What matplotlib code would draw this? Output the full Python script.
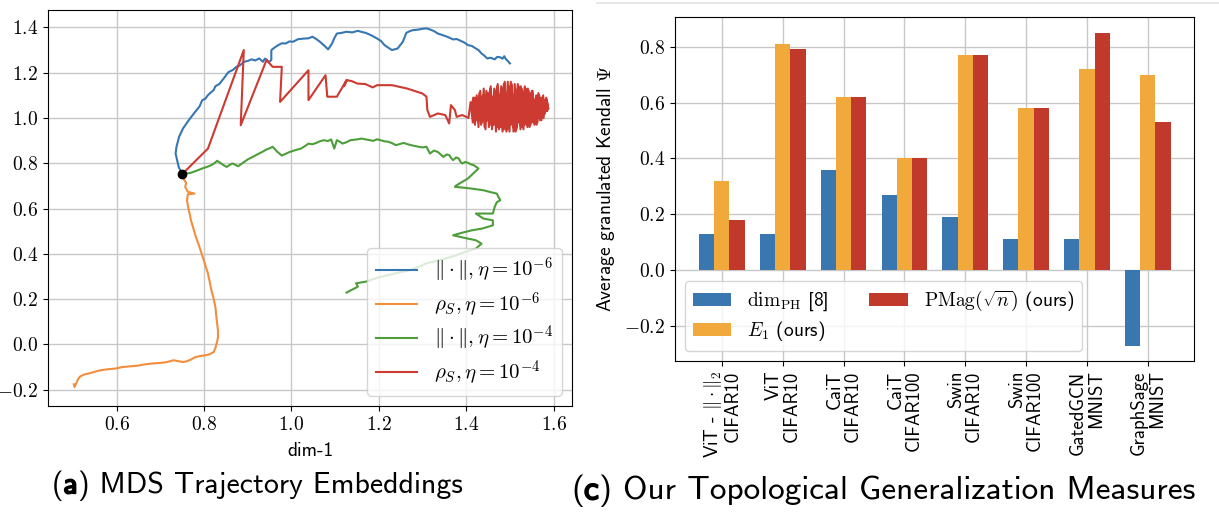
import matplotlib
matplotlib.use("Agg")
import matplotlib.pyplot as plt
import matplotlib.patheffects as pe
from matplotlib.lines import Line2D
from matplotlib.ticker import FuncFormatter, MultipleLocator
from matplotlib.offsetbox import TextArea, HPacker, AnchoredOffsetbox
import numpy as np

plt.rcParams['mathtext.fontset'] = 'cm'
plt.rcParams['font.family'] = ['cmss10', 'DejaVu Sans']
plt.rcParams['axes.unicode_minus'] = False

# ---- panel (a): MDS trajectory embeddings ----
start_pt = (0.75, 0.752)

blue_x = [0.750, 0.742, 0.735, 0.737, 0.743, 0.752, 0.765, 0.774, 0.783, 0.790, 0.796, 0.803,
          0.809, 0.815, 0.822, 0.826, 0.830, 0.835, 0.839, 0.844, 0.848, 0.853, 0.857, 0.866,
          0.874, 0.882, 0.891, 0.900, 0.909, 0.917, 0.926, 0.931, 0.935, 0.939, 0.943, 0.948,
          0.954, 0.954, 0.962, 0.970, 0.978, 0.987, 0.995, 1.004, 1.015, 1.030, 1.039, 1.048,
          1.056, 1.065, 1.075, 1.084, 1.093, 1.098, 1.104, 1.115, 1.126, 1.139, 1.152, 1.161,
          1.170, 1.183, 1.196, 1.205, 1.213, 1.222, 1.230, 1.243, 1.255, 1.263, 1.270, 1.278,
          1.289, 1.300, 1.309, 1.317, 1.326, 1.335, 1.343, 1.352, 1.360, 1.370, 1.378, 1.387,
          1.395, 1.404, 1.413, 1.422, 1.428, 1.435, 1.441, 1.448, 1.456, 1.465, 1.471, 1.478,
          1.483, 1.487, 1.490, 1.493, 1.500]
blue_y = [0.752, 0.784, 0.843, 0.873, 0.917, 0.954, 0.990, 1.013, 1.035, 1.052, 1.079, 1.085,
          1.101, 1.112, 1.123, 1.140, 1.145, 1.150, 1.160, 1.172, 1.182, 1.196, 1.204, 1.212,
          1.226, 1.232, 1.248, 1.252, 1.259, 1.254, 1.263, 1.255, 1.248, 1.262, 1.259, 1.246,
          1.256, 1.300, 1.312, 1.322, 1.330, 1.329, 1.338, 1.337, 1.348, 1.351, 1.352, 1.359,
          1.350, 1.337, 1.320, 1.303, 1.329, 1.352, 1.373, 1.376, 1.381, 1.378, 1.385, 1.380,
          1.376, 1.365, 1.351, 1.340, 1.322, 1.310, 1.300, 1.307, 1.337, 1.376, 1.383, 1.388,
          1.390, 1.394, 1.396, 1.391, 1.384, 1.373, 1.368, 1.362, 1.356, 1.347, 1.349, 1.341,
          1.334, 1.322, 1.318, 1.307, 1.300, 1.285, 1.276, 1.263, 1.266, 1.259, 1.270, 1.268,
          1.262, 1.273, 1.262, 1.256, 1.241]

orange_x = [0.750, 0.753, 0.759, 0.757, 0.763, 0.778, 0.763, 0.761, 0.763, 0.765, 0.768, 0.770,
            0.774, 0.778, 0.782, 0.787, 0.792, 0.797, 0.803, 0.809, 0.813, 0.817, 0.822, 0.826,
            0.828, 0.830, 0.832, 0.832, 0.830, 0.826, 0.822, 0.813, 0.804, 0.795, 0.787, 0.778,
            0.770, 0.761, 0.752, 0.741, 0.730, 0.715, 0.700, 0.683, 0.665, 0.648, 0.630, 0.613,
            0.596, 0.578, 0.561, 0.548, 0.535, 0.526, 0.517, 0.512, 0.509, 0.506, 0.504, 0.502]
orange_y = [0.752, 0.733, 0.713, 0.695, 0.674, 0.666, 0.663, 0.637, 0.615, 0.593, 0.570, 0.548,
            0.523, 0.497, 0.471, 0.445, 0.416, 0.386, 0.350, 0.313, 0.276, 0.239, 0.202, 0.165,
            0.128, 0.092, 0.060, 0.033, 0.012, -0.016, -0.034, -0.043, -0.048, -0.050, -0.053,
            -0.058, -0.067, -0.074, -0.078, -0.074, -0.070, -0.078, -0.082, -0.084, -0.088,
            -0.094, -0.097, -0.100, -0.107, -0.110, -0.115, -0.122, -0.129, -0.133, -0.141,
            -0.152, -0.166, -0.178, -0.188, -0.176]

green_x = [0.750, 0.770, 0.784, 0.796, 0.808, 0.817, 0.825, 0.830, 0.839, 0.846, 0.852, 0.858,
           0.865, 0.872, 0.878, 0.889, 0.900, 0.913, 0.926, 0.935, 0.943, 0.950, 0.957, 0.967,
           0.978, 0.987, 0.996, 1.009, 1.022, 1.031, 1.039, 1.048, 1.057, 1.065, 1.074, 1.083,
           1.091, 1.098, 1.104, 1.110, 1.117, 1.126, 1.135, 1.148, 1.161, 1.174, 1.187, 1.196,
           1.204, 1.213, 1.222, 1.231, 1.239, 1.248, 1.257, 1.266, 1.274, 1.283, 1.291, 1.300,
           1.309, 1.317, 1.326, 1.335, 1.342, 1.348, 1.355, 1.361, 1.366, 1.370, 1.377, 1.383,
           1.387, 1.391, 1.398, 1.404, 1.411, 1.417, 1.422, 1.428, 1.404, 1.378, 1.374, 1.395,
           1.413, 1.428, 1.439, 1.455, 1.470, 1.474, 1.478, 1.470, 1.465, 1.463, 1.461, 1.440,
           1.422, 1.439, 1.461, 1.461, 1.437, 1.413, 1.390, 1.370, 1.395, 1.422, 1.435, 1.422,
           1.396, 1.378, 1.350, 1.330, 1.309, 1.290, 1.274, 1.256, 1.239, 1.222, 1.204, 1.187,
           1.170, 1.148, 1.152, 1.126]
green_y = [0.752, 0.758, 0.768, 0.777, 0.785, 0.792, 0.802, 0.811, 0.799, 0.790, 0.784, 0.792,
           0.799, 0.793, 0.787, 0.802, 0.817, 0.830, 0.843, 0.852, 0.861, 0.866, 0.873, 0.852,
           0.834, 0.842, 0.850, 0.858, 0.865, 0.876, 0.887, 0.884, 0.890, 0.897, 0.902, 0.898,
           0.905, 0.865, 0.902, 0.896, 0.887, 0.893, 0.902, 0.905, 0.909, 0.904, 0.899, 0.906,
           0.902, 0.897, 0.895, 0.888, 0.880, 0.885, 0.890, 0.884, 0.880, 0.876, 0.873, 0.870,
           0.873, 0.843, 0.856, 0.850, 0.838, 0.828, 0.839, 0.836, 0.822, 0.814, 0.826, 0.821,
           0.806, 0.799, 0.806, 0.802, 0.795, 0.792, 0.785, 0.777, 0.733, 0.703, 0.696, 0.692,
           0.688, 0.684, 0.681, 0.673, 0.666, 0.650, 0.637, 0.628, 0.607, 0.592, 0.578, 0.578,
           0.578, 0.556, 0.548, 0.526, 0.512, 0.504, 0.493, 0.482, 0.471, 0.460, 0.445, 0.423,
           0.408, 0.394, 0.378, 0.368, 0.358, 0.342, 0.329, 0.322, 0.314, 0.306, 0.299, 0.288,
           0.277, 0.270, 0.255, 0.229]

red_x = [0.750, 0.809, 0.891, 0.884, 0.943, 0.957, 0.978, 0.974, 1.039, 1.039, 1.078, 1.082,
         1.104, 1.122, 1.126, 1.120, 1.127, 1.138, 1.151, 1.169, 1.186, 1.196, 1.230, 1.265,
         1.300, 1.309, 1.311, 1.317, 1.335, 1.352, 1.361, 1.365, 1.374, 1.378, 1.391, 1.400,
         1.405, 1.410, 1.415, 1.420, 1.425, 1.430, 1.434, 1.438, 1.442, 1.446, 1.450, 1.455,
         1.459, 1.463, 1.467, 1.471, 1.475, 1.479, 1.483, 1.487, 1.491, 1.495, 1.499, 1.503,
         1.507, 1.511, 1.515, 1.519, 1.523, 1.527, 1.531, 1.535, 1.539, 1.543, 1.547, 1.551,
         1.555, 1.559, 1.563, 1.567, 1.571, 1.575, 1.579, 1.583, 1.587,
         1.585, 1.581, 1.577, 1.573, 1.569, 1.565, 1.561, 1.557, 1.553, 1.549, 1.545, 1.541,
         1.537, 1.533, 1.529, 1.525, 1.521, 1.517, 1.513, 1.509, 1.505, 1.501, 1.497, 1.493,
         1.489, 1.485, 1.481, 1.477, 1.473, 1.469, 1.465, 1.461, 1.457, 1.453, 1.449, 1.445,
         1.441, 1.437, 1.433, 1.429, 1.425,
         1.412, 1.416, 1.420, 1.424, 1.428, 1.432, 1.436, 1.440, 1.444, 1.448, 1.452, 1.456,
         1.460, 1.464, 1.468, 1.472, 1.476, 1.480, 1.484, 1.488, 1.492, 1.496, 1.500, 1.504,
         1.508, 1.512, 1.516, 1.520, 1.524, 1.528, 1.532, 1.536, 1.540, 1.544, 1.548, 1.552,
         1.556, 1.560, 1.564, 1.568, 1.572, 1.576, 1.580, 1.584, 1.588,
         1.582, 1.574, 1.566, 1.558, 1.550, 1.542, 1.534, 1.526, 1.518, 1.510, 1.502, 1.494,
         1.486, 1.478, 1.470, 1.462, 1.454, 1.446, 1.438, 1.430, 1.422, 1.440, 1.470, 1.500]
red_y = [0.752, 0.865, 1.300, 0.968, 1.256, 1.226, 1.226, 1.071, 1.211, 1.079, 1.189, 1.094,
         1.094, 1.153, 1.167, 1.140, 1.167, 1.163, 1.152, 1.150, 1.135, 1.145, 1.145, 1.130,
         1.108, 1.094, 1.035, 1.005, 1.020, 1.013, 0.976, 1.057, 1.035, 1.005, 1.013, 1.005,
         1.000, 1.070, 0.980, 1.090, 0.990, 1.110, 0.970, 1.080, 0.960, 1.120, 0.990, 1.130,
         0.950, 1.100, 0.970, 1.140, 0.950, 1.120, 0.940, 1.150, 0.970, 1.160, 0.940, 1.130,
         0.960, 1.150, 0.950, 1.120, 0.970, 1.130, 0.950, 1.110, 0.980, 1.120, 0.970, 1.100,
         0.990, 1.090, 0.980, 1.100, 1.010, 1.080, 1.020, 1.090, 1.050,
         1.030, 1.080, 1.000, 1.090, 0.990, 1.110, 0.970, 1.080, 0.980, 1.110, 0.960, 1.130,
         0.970, 1.100, 0.960, 1.140, 0.980, 1.120, 0.940, 1.100, 0.970, 1.140, 0.960, 1.110,
         0.950, 1.130, 0.980, 1.100, 0.960, 1.120, 0.980, 1.090, 0.970, 1.110, 0.990, 1.080,
         1.000, 1.090, 1.010, 1.070, 1.020,
         1.040, 1.090, 0.970, 1.100, 0.960, 1.120, 0.980, 1.130, 0.950, 1.110, 0.960, 1.140,
         0.970, 1.130, 0.940, 1.150, 0.970, 1.140, 0.950, 1.160, 0.940, 1.140, 0.970, 1.150,
         0.940, 1.130, 0.960, 1.140, 0.950, 1.120, 0.970, 1.130, 0.960, 1.100, 0.980, 1.120,
         0.970, 1.100, 1.000, 1.090, 0.990, 1.100, 1.020, 1.080, 1.040,
         1.070, 1.010, 1.100, 0.990, 1.120, 0.970, 1.140, 0.960, 1.150, 0.950, 1.160, 0.950,
         1.150, 0.960, 1.130, 0.970, 1.120, 0.990, 1.100, 1.000, 1.080, 1.050, 1.060, 1.040]

line_labels = [r'$\|\cdot\|, \eta = 10^{-6}$', r'$\rho_S, \eta = 10^{-6}$',
               r'$\|\cdot\|, \eta = 10^{-4}$', r'$\rho_S, \eta = 10^{-4}$']

# ---- panel (c): topological generalization measures ----
categories = ['ViT - $\\|\\cdot\\|_2$\nCIFAR10', 'ViT\nCIFAR10', 'CaiT\nCIFAR10', 'CaiT\nCIFAR100',
              'Swin\nCIFAR10', 'Swin\nCIFAR100', 'GatedGCN\nMNIST', 'GraphSage\nMNIST']
dim_ph = [0.13, 0.13, 0.36, 0.27, 0.19, 0.11, 0.11, -0.27]
e1 = [0.32, 0.81, 0.62, 0.40, 0.77, 0.58, 0.72, 0.70]
pmag = [0.18, 0.79, 0.62, 0.40, 0.77, 0.58, 0.85, 0.53]
bar_labels = [r'$\mathrm{dim}_{\mathrm{PH}}$ [8]', r'$E_1$ (ours)', r'$\mathrm{PMag}(\sqrt{n})$ (ours)']

W, H = 1219, 513
fig = plt.figure(figsize=(W / 100, H / 100), dpi=100)

grid_kw = dict(color='#c8c8c8', linewidth=1.0)
cm_fmt = FuncFormatter(lambda v, p: f'${v:.1f}$')

ax1 = fig.add_axes([48 / W, (H - 406) / H, 524 / W, 396 / H])
ax1.plot(blue_x, blue_y, color='#3677b3', lw=1.5, label=line_labels[0])
ax1.plot(orange_x, orange_y, color='#f28e3c', lw=1.5, label=line_labels[1])
ax1.plot(green_x, green_y, color='#4d9e3a', lw=1.5, label=line_labels[2])
ax1.plot(red_x, red_y, color='#cc3a32', lw=1.5, label=line_labels[3])
ax1.scatter([start_pt[0]], [start_pt[1]], s=36, color='black', zorder=5)
ax1.set_xlim(0.443, 1.642)
ax1.set_ylim(-0.272, 1.477)
ax1.xaxis.set_major_locator(MultipleLocator(0.2))
ax1.yaxis.set_major_locator(MultipleLocator(0.2))
ax1.xaxis.set_major_formatter(cm_fmt)
ax1.yaxis.set_major_formatter(cm_fmt)
ax1.grid(True, **grid_kw)
ax1.set_axisbelow(True)
ax1.tick_params(labelsize=14, length=3.5)
ax1.set_xlabel('dim-1', fontsize=14, labelpad=6)
ax1.legend(loc='lower right', fontsize=15, borderaxespad=0.5, labelspacing=0.25)

ax2 = fig.add_axes([675 / W, (H - 360.7) / H, 519 / W, 343.4 / H])
xpos = np.arange(len(categories))
bw = 0.25
ax2.bar(xpos - bw, dim_ph, bw, color='#3a77b1', label=bar_labels[0])
ax2.bar(xpos, e1, bw, color='#f2a93b', label=bar_labels[1])
ax2.bar(xpos + bw, pmag, bw, color='#c0392b', label=bar_labels[2])
ax2.set_xlim(-0.77, 7.76)
ax2.set_ylim(-0.324, 0.905)
ax2.set_xticks(xpos)
ax2.set_xticklabels(categories, rotation=90, fontsize=13.5, multialignment='right',
                    linespacing=1.0)
ax2.yaxis.set_major_locator(MultipleLocator(0.2))
ax2.yaxis.set_major_formatter(cm_fmt)
ax2.grid(True, **grid_kw)
ax2.set_axisbelow(True)
ax2.tick_params(axis='y', labelsize=14, length=3.5)
ax2.tick_params(axis='x', length=3.5)
ax2.set_ylabel(r'Average granulated Kendall $\Psi$', fontsize=14, labelpad=5)
ax2.legend(loc='lower left', ncol=2, fontsize=14, borderaxespad=0.5,
           labelspacing=0.3, columnspacing=2.1)

# faint frame line of the screenshot above panel (c)
fig.add_artist(Line2D([597 / W, 1.0], [1 - 3 / H, 1 - 3 / H], transform=fig.transFigure,
                      color='#e3e3e3', lw=1.2))


def caption(letter, rest, x, y, size):
    style = dict(fontsize=size, family='cmss10')
    bold = TextArea(letter, textprops=dict(style, path_effects=[
        pe.withStroke(linewidth=1.3, foreground='black')]))
    pack = HPacker(children=[TextArea('(', textprops=style), bold,
                             TextArea(rest, textprops=style)],
                   align='baseline', pad=0, sep=0)
    box = AnchoredOffsetbox(loc='center left', child=pack, pad=0, borderpad=0, frameon=False,
                            bbox_to_anchor=(x / W, 1 - y / H), bbox_transform=fig.transFigure)
    fig.add_artist(box)


caption('a', ') MDS Trajectory Embeddings', 52, 486, 21.5)
caption('c', ') Our Topological Generalization Measures', 571, 491, 24)

fig.savefig('out.png', dpi=100)
